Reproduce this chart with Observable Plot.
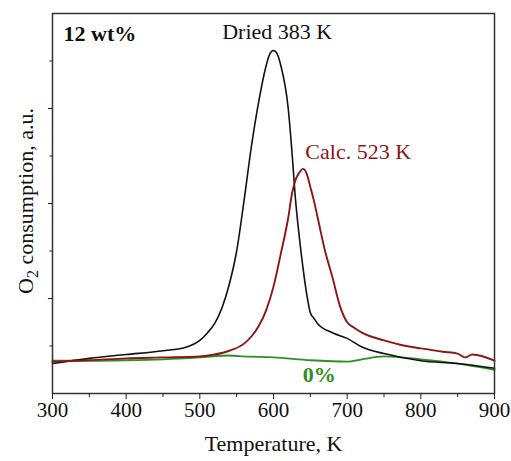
<!DOCTYPE html>
<html>
<head>
<meta charset="utf-8">
<script src="https://cdn.jsdelivr.net/npm/d3@7"></script>
<script src="https://cdn.jsdelivr.net/npm/@observablehq/plot@0.6"></script>
<style>
  html, body { margin: 0; padding: 0; background: white; }
  #chart { width: 511px; height: 461px; }
</style>
</head>
<body>
<div id="chart"></div>
<script>
// Temperatures (K) and O2 consumption (a.u.)
const driedT = [300,350,400,450,480,500,510,520,530,540,550,560,570,580,590,595,600,605,610,620,625,630,635,640,645,650,655,660,680,700,720,750,800,850,900];
const driedV = [0.63,0.74,0.82,0.9,0.97,1.12,1.27,1.47,1.8,2.3,3.0,4.06,5.2,6.15,6.9,7.15,7.22,7.15,6.9,6.0,5.1,4.06,3.3,2.65,2.1,1.7,1.58,1.47,1.28,1.16,0.98,0.84,0.69,0.63,0.53];

const calcT = [300,350,400,450,500,520,540,560,570,580,590,600,610,620,625,630,635,640,645,650,655,660,670,680,690,700,710,720,750,780,800,830,850,860,870,900];
const calcV = [0.67,0.7,0.74,0.76,0.78,0.82,0.9,1.05,1.2,1.42,1.75,2.25,2.95,3.7,4.2,4.5,4.65,4.73,4.63,4.35,4.05,3.7,3.0,2.45,1.85,1.5,1.38,1.28,1.12,1.0,0.95,0.88,0.84,0.76,0.82,0.69];

const zeroT = [300,350,400,450,500,540,560,600,650,700,720,750,800,850,900];
const zeroV = [0.69,0.69,0.7,0.72,0.76,0.8,0.78,0.76,0.7,0.67,0.72,0.78,0.72,0.63,0.5];

const xMajorTicks = [300,400,500,600,700,800,900];
const xMinorTicks = [350,450,550,650,750,850];
const yMajorTicks = [2,4,6];
const yMinorTicks = [1,3,5,7];

const labelTexts = ["Dried 383 K", "Calc. 523 K", "0%", "12 wt%"];
const labelT = [605, 715, 662, 315];
const labelV = [7.62, 5.09, 0.38, 7.56];

const colDried = "#111111";
const colCalc = "#8c1616";
const colZero = "#2f8f22";

const FONT = "'Liberation Serif', 'Times New Roman', serif";

const toRows = (T, V) => T.map((t, i) => ({t, v: V[i]}));
const dried = toRows(driedT, driedV);
const calc = toRows(calcT, calcV);
const zero = toRows(zeroT, zeroV);
const labels = labelTexts.map((s, i) => ({s, t: labelT[i], v: labelV[i]}));

const chart = Plot.plot({
  width: 511,
  height: 461,
  marginLeft: 52,
  marginRight: 17,
  marginTop: 13,
  marginBottom: 68,
  x: {domain: [300, 900]},
  y: {domain: [0, 8]},
  style: {fontFamily: FONT, fontSize: "21px", background: "white", color: "#111"},
  marks: [
    Plot.line(zero, {x: "t", y: "v", stroke: colZero, strokeWidth: 1.8, curve: "monotone-x"}),
    Plot.line(dried, {x: "t", y: "v", stroke: colDried, strokeWidth: 1.6, curve: "monotone-x"}),
    Plot.line(calc, {x: "t", y: "v", stroke: colCalc, strokeWidth: 1.9, curve: "monotone-x"}),
    Plot.frame({stroke: "#333", strokeWidth: 1.5}),
    Plot.axisX({ticks: xMajorTicks, tickSize: 6, tickPadding: 3, fontSize: 21, label: null, stroke: "#222"}),
    Plot.axisX({ticks: xMinorTicks, tickSize: 4, tickFormat: () => "", label: null, stroke: "#222"}),
    Plot.axisY({ticks: yMajorTicks, tickSize: 4, tickFormat: () => "", label: null, stroke: "#222"}),
    Plot.axisY({ticks: yMinorTicks, tickSize: 2.5, tickFormat: () => "", label: null, stroke: "#222"}),
    Plot.text(labels.filter(d => d.s === "Dried 383 K"), {x: "t", y: "v", text: "s", fill: colDried, fontSize: 22, textAnchor: "middle"}),
    Plot.text(labels.filter(d => d.s === "Calc. 523 K"), {x: "t", y: "v", text: "s", fill: colCalc, fontSize: 22, textAnchor: "middle"}),
    Plot.text(labels.filter(d => d.s === "0%"), {x: "t", y: "v", text: "s", fill: colZero, fontSize: 22, fontWeight: "bold", textAnchor: "middle"}),
    Plot.text(labels.filter(d => d.s === "12 wt%"), {x: "t", y: "v", text: "s", fill: "#111", fontSize: 22, fontWeight: "bold", textAnchor: "start"}),
    Plot.text(["Temperature, K"], {frameAnchor: "bottom", text: d => d, dy: 57, fontSize: 22, textAnchor: "middle"})
  ]
});

// Y-axis title with subscript
const svg = d3.select(chart);
const yl = svg.append("text")
  .attr("transform", "translate(33,201) rotate(-90)")
  .attr("text-anchor", "middle")
  .attr("font-family", FONT)
  .attr("font-size", 22)
  .attr("fill", "#111");
yl.append("tspan").text("O");
yl.append("tspan").attr("font-size", 16).attr("dy", 5).text("2");
yl.append("tspan").attr("dy", -5).text(" consumption, a.u.");

document.getElementById("chart").appendChild(chart);
</script>
</body>
</html>
